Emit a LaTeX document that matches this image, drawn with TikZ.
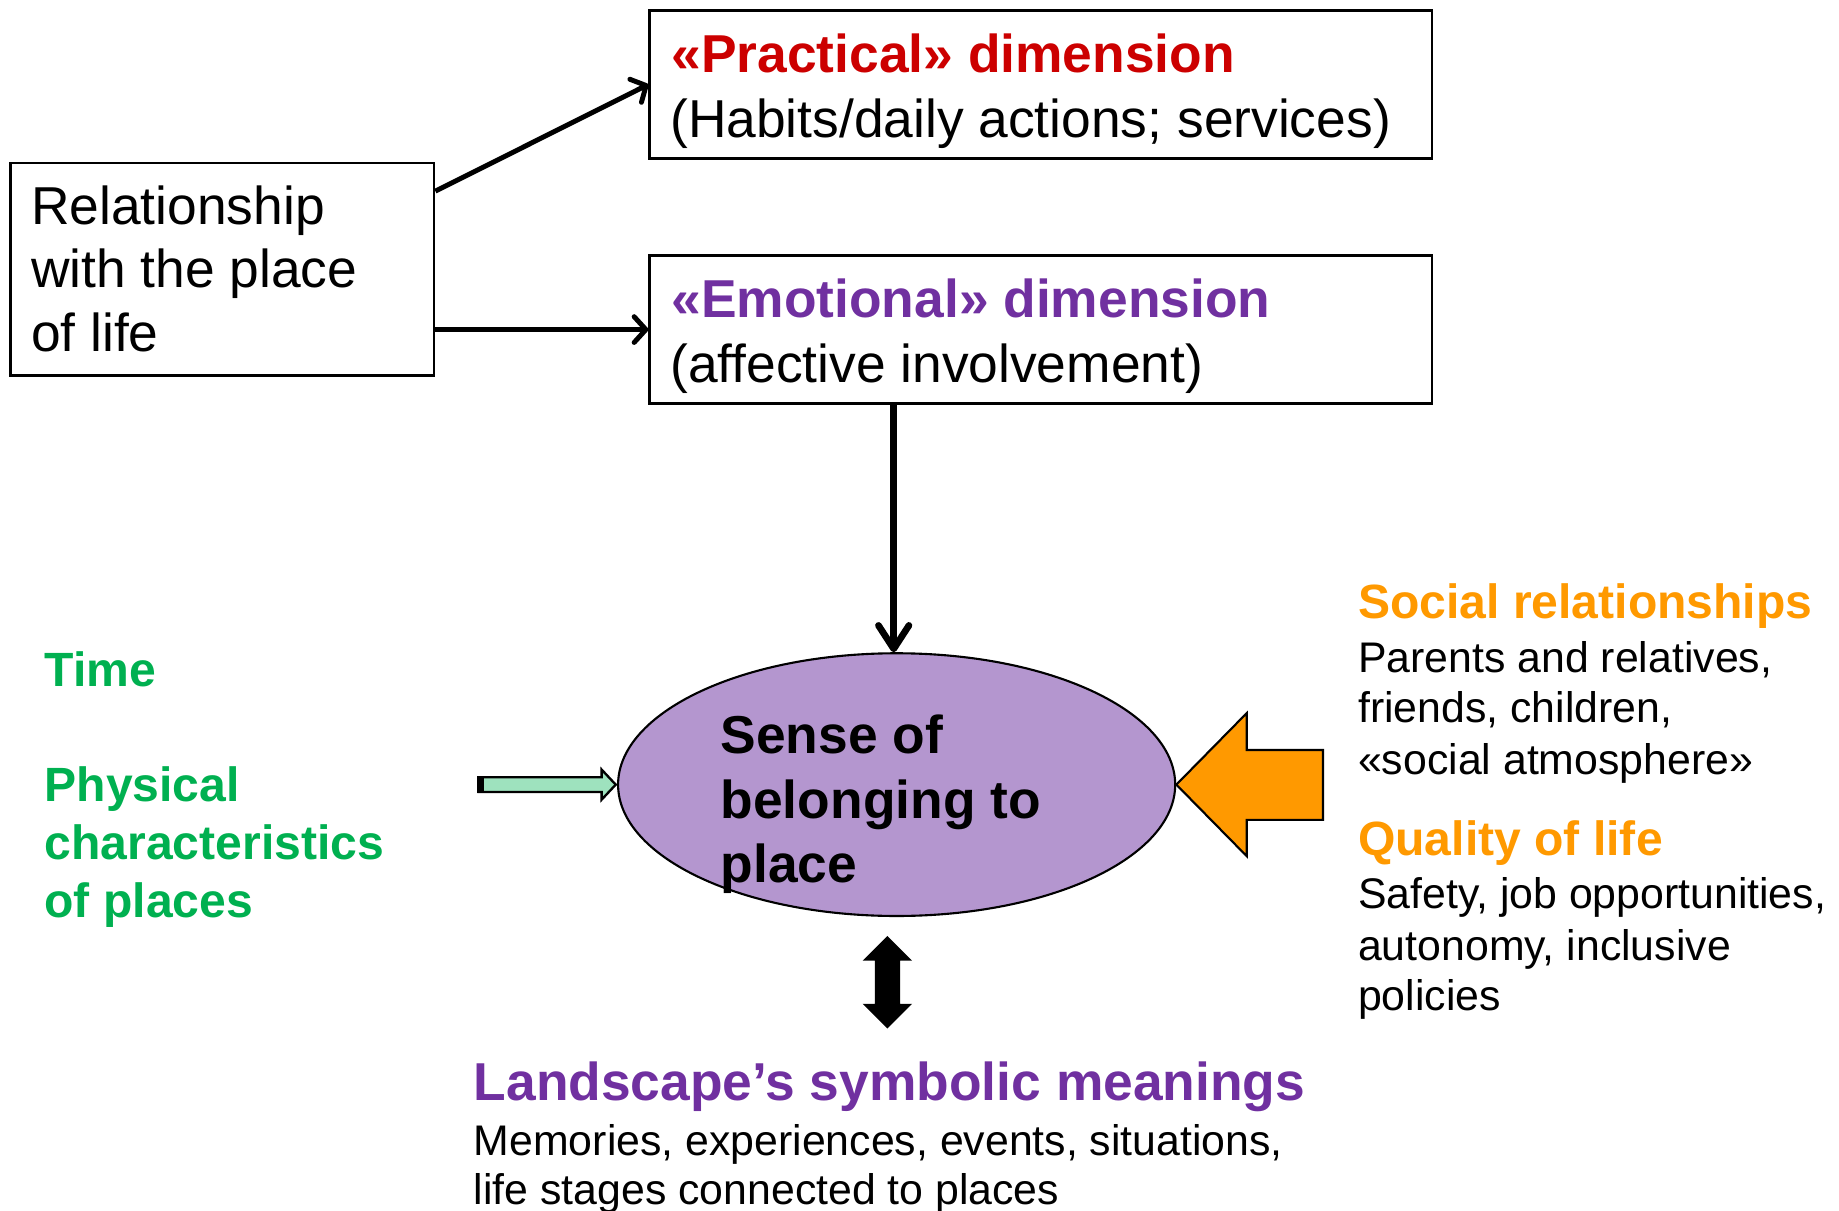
\documentclass[tikz,border=0pt]{standalone}
\usepackage{fontspec}
\setmainfont{Liberation Sans}
\usetikzlibrary{arrows.meta,shapes.geometric}
\definecolor{pred}{RGB}{204,0,0}
\definecolor{ppurple}{RGB}{112,48,160}
\definecolor{porange}{RGB}{255,153,0}
\definecolor{pgreen}{RGB}{0,176,80}
\definecolor{ellfill}{RGB}{180,150,207}
\definecolor{mint}{RGB}{158,226,190}
\begin{document}
\begin{tikzpicture}[x=1pt,y=-1pt,
  box/.style={draw, line width=2.4pt, inner sep=0pt},
  txt/.style={anchor=base west, inner sep=0pt, outer sep=0pt},
  fbig/.style={font=\fontsize{45.5}{54}\selectfont},
  fbigb/.style={font=\fontsize{45.5}{54}\selectfont\bfseries},
  fmedb/.style={font=\fontsize{41}{49}\selectfont\bfseries},
  fsmall/.style={font=\fontsize{36.5}{43}\selectfont},
  conn/.style={line width=4.2pt, -{Straight Barb[length=10pt,width=22pt,round]}},
  vconn/.style={line width=5.7pt, -{Straight Barb[length=20pt,width=26pt,round]}}
]
\useasboundingbox (0,0) rectangle (1568,1032);
% boxes
\node[box, minimum width=361pt, minimum height=181pt] (rel) at (189.5,229.5) {};
\node[box, minimum width=667pt, minimum height=126pt] (prac) at (887.5,72) {};
\node[box, minimum width=667pt, minimum height=126pt] (emo) at (887.5,281) {};
\node[draw, ellipse, fill=ellfill, line width=1.8pt, minimum width=475pt, minimum height=224pt] (ell) at (764.5,669) {};
% box texts
\node[txt, fbig] (rel1) at (26.5,191) {Relationship};
\node[txt, fbig] (rel2) at (26.5,245.5) {with the place};
\node[txt, fbig] (rel3) at (26.5,300) {of life};
\node[txt, fbigb, text=pred] (prac1) at (572.5,62) {«Practical» dimension};
\node[txt, fbig] (prac2) at (571.5,117) {(Habits/daily actions; services)};
\node[txt, fbigb, text=ppurple] (emo1) at (572.5,271) {«Emotional» dimension};
\node[txt, fbig] (emo2) at (571.5,326) {(affective involvement)};
% ellipse text
\node[txt, fbigb] (ell1) at (614.5,642.5) {Sense of};
\node[txt, fbigb] (ell2) at (614.5,697.5) {belonging to};
\node[txt, fbigb] (ell3) at (614.5,752.5) {place};
% connectors
\draw[conn] ([yshift=66.5pt]rel.east) -- (prac.west);
\draw[conn] ([yshift=-51.5pt]rel.east) -- (emo.west);
\draw[vconn] ([xshift=-125.5pt]emo.south) coordinate (vtop) -- (vtop |- ell.north);
% green arrow
\draw[line width=2pt, fill=mint, line join=miter] (408,662.75) -- (513,662.75) -- (513,656.2) -- (525,669) -- (513,681.8) -- (513,675.25) -- (408,675.25) -- cycle;
\fill (407,661.75) rectangle (413,676.25);
% orange arrow
\draw[line width=1.8pt, fill=porange, line join=miter] (1003,669) -- (1063,608) -- (1063,639.5) -- (1128,639.5) -- (1128,699) -- (1063,699) -- (1063,730) -- cycle;
% double arrow
\fill (756.6,798) -- (777.6,819) -- (767.4,819) -- (767.4,856) -- (777.6,856) -- (756.6,877) -- (735.6,856) -- (746,856) -- (746,819) -- (735.6,819) -- cycle;
% left green texts
\node[txt, fmedb, text=pgreen] (time) at (38,585.5) {Time};
\node[txt, fmedb, text=pgreen] (phys1) at (38,683.5) {Physical};
\node[txt, fmedb, text=pgreen] (phys2) at (38,733) {characteristics};
\node[txt, fmedb, text=pgreen] (phys3) at (38,782.5) {of places};
% right texts
\node[txt, fmedb, text=porange] (soc) at (1158,527.5) {Social relationships};
\node[txt, fsmall] (soc1) at (1158,573) {Parents and relatives,};
\node[txt, fsmall] (soc2) at (1158,616) {friends, children,};
\node[txt, fsmall] (soc3) at (1158,660) {«social atmosphere»};
\node[txt, fmedb, text=porange] (qual) at (1158,729.5) {Quality of life};
\node[txt, fsmall] (qual1) at (1158,775) {Safety, job opportunities,};
\node[txt, fsmall] (qual2) at (1158,819) {autonomy, inclusive};
\node[txt, fsmall] (qual3) at (1158,862) {policies};
% bottom texts
\node[txt, fbigb, text=ppurple] (land) at (404,938) {Landscape’s symbolic meanings};
\node[txt, fsmall] (land1) at (404,985) {Memories, experiences, events, situations,};
\node[txt, fsmall] (land2) at (404,1027) {life stages connected to places};
\end{tikzpicture}
\end{document}
